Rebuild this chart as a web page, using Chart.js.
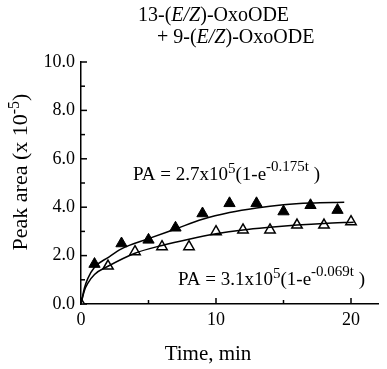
<!DOCTYPE html>
<html>
<head>
<meta charset="utf-8">
<script src="https://cdn.jsdelivr.net/npm/chart.js@4/dist/chart.umd.min.js"></script>
<style>
  html, body { margin: 0; padding: 0; background: #fff; }
  #wrap { width: 387px; height: 369px; position: relative; }
</style>
</head>
<body>
<div id="wrap"><canvas id="chart"></canvas></div>
<script>
// measured points (time in min, peak area x 1e-5)
const filledTimes = [1, 3, 5, 7, 9, 11, 13, 15, 17, 19];
const filledArea = [1.65, 2.5, 2.65, 3.15, 3.74, 4.16, 4.16, 3.82, 4.08, 3.88];
const openTimes = [0, 2, 4, 6, 8, 10, 12, 14, 16, 18, 20];
const openArea = [0, 1.57, 2.16, 2.37, 2.37, 2.99, 3.06, 3.06, 3.26, 3.26, 3.4];

// fitted curves
const upperFitTimes = [0, 0.25, 0.5, 1, 2, 3, 5, 7, 9, 11, 13, 15, 17, 19.5];
const upperFitArea = [0, 0.65, 1.05, 1.52, 1.92, 2.28, 2.7, 3.1, 3.5, 3.78, 3.97, 4.1, 4.17, 4.2];
const lowerFitTimes = [0, 0.25, 0.5, 1, 2, 4, 6, 8, 10, 12, 14, 16, 18, 20.2];
const lowerFitArea = [0, 0.55, 0.85, 1.22, 1.56, 2.1, 2.42, 2.68, 2.9, 3.06, 3.17, 3.26, 3.33, 3.38];

const xLabelValues = [0, 10, 20];
const xTickValues = [0, 5, 10, 15, 20];
const yTickValues = [0, 1, 2, 3, 4, 5, 6, 7, 8, 9, 10];

const serif = '"Liberation Serif", "Times New Roman", serif';

const toPoints = (xs, ys) => xs.map((x, i) => ({ x: x, y: ys[i] }));

// draws a list of text runs one after another on a baseline
function drawRuns(ctx, x, y, runs) {
    let cx = x;
    runs.forEach(r => {
        ctx.font = r.font;
        ctx.fillText(r.t, cx, y + (r.dy || 0));
        cx += ctx.measureText(r.t).width;
    });
    return cx - x;
}

function runsWidth(ctx, runs) {
    let w = 0;
    runs.forEach(r => { ctx.font = r.font; w += ctx.measureText(r.t).width; });
    return w;
}

const decorations = {
    id: 'decorations',
    afterDraw(chart) {
        const ctx = chart.ctx;
        const xs = chart.scales.x;
        const ys = chart.scales.y;
        const area = chart.chartArea;
        ctx.save();
        ctx.strokeStyle = '#000';
        ctx.fillStyle = '#000';
        ctx.lineWidth = 1.5;

        // inward tick marks
        xTickValues.forEach(v => {
            const px = xs.getPixelForValue(v);
            const len = v % 10 === 0 ? 6 : 4;
            ctx.beginPath();
            ctx.moveTo(px, area.bottom);
            ctx.lineTo(px, area.bottom - len);
            ctx.stroke();
        });
        yTickValues.forEach(v => {
            const py = ys.getPixelForValue(v);
            const len = v % 2 === 0 ? 6 : 4;
            ctx.beginPath();
            ctx.moveTo(area.left, py);
            ctx.lineTo(area.left + len, py);
            ctx.stroke();
        });

        ctx.textBaseline = 'alphabetic';
        ctx.textAlign = 'left';
        const f20 = '20px ' + serif;
        const i20 = 'italic 20px ' + serif;

        // title
        drawRuns(ctx, 138, 21, [
            { t: '13-(', font: f20 }, { t: 'E/Z', font: i20 }, { t: ')-OxoODE', font: f20 }
        ]);
        drawRuns(ctx, 157, 43, [
            { t: '+ 9-(', font: f20 }, { t: 'E/Z', font: i20 }, { t: ')-OxoODE', font: f20 }
        ]);

        // fit equations
        const f19 = '19px ' + serif;
        const f15 = '15px ' + serif;
        drawRuns(ctx, 133, 180, [
            { t: 'PA = 2.7x10', font: f19 }, { t: '5', font: f15, dy: -7 },
            { t: '(1-e', font: f19 }, { t: '-0.175t', font: f15, dy: -9 }, { t: ' )', font: f19 }
        ]);
        drawRuns(ctx, 178, 285, [
            { t: 'PA = 3.1x10', font: f19 }, { t: '5', font: f15, dy: -7 },
            { t: '(1-e', font: f19 }, { t: '-0.069t', font: f15, dy: -9 }, { t: ' )', font: f19 }
        ]);

        // x axis title
        ctx.font = '21px ' + serif;
        ctx.textAlign = 'center';
        ctx.fillText('Time, min', 208, 360);

        // y axis title, rotated
        const yRuns = [
            { t: 'Peak area (x 10', font: '22px ' + serif },
            { t: '-5', font: '16px ' + serif, dy: -8 },
            { t: ')', font: '22px ' + serif }
        ];
        ctx.textAlign = 'left';
        ctx.translate(27, 172);
        ctx.rotate(-Math.PI / 2);
        const w = runsWidth(ctx, yRuns);
        drawRuns(ctx, -w / 2, 0, yRuns);

        ctx.restore();
    }
};

const ctx = document.getElementById('chart').getContext('2d');
new Chart(ctx, {
    type: 'scatter',
    data: {
        datasets: [
            {
                label: 'fit upper',
                type: 'line',
                data: toPoints(upperFitTimes, upperFitArea),
                borderColor: '#000',
                borderWidth: 1.5,
                pointRadius: 0,
                fill: false,
                cubicInterpolationMode: 'monotone'
            },
            {
                label: 'fit lower',
                type: 'line',
                data: toPoints(lowerFitTimes, lowerFitArea),
                borderColor: '#000',
                borderWidth: 1.5,
                pointRadius: 0,
                fill: false,
                cubicInterpolationMode: 'monotone'
            },
            {
                label: 'filled',
                data: toPoints(filledTimes, filledArea),
                pointStyle: 'triangle',
                pointRadius: 6.5,
                backgroundColor: '#000',
                borderColor: '#000',
                borderWidth: 1
            },
            {
                label: 'open',
                data: toPoints(openTimes, openArea),
                pointStyle: 'triangle',
                pointRadius: 6,
                backgroundColor: '#fff',
                borderColor: '#000',
                borderWidth: 1.5
            }
        ]
    },
    options: {
        responsive: true,
        maintainAspectRatio: false,
        animation: false,
        layout: { padding: { left: 0, right: 9, top: 62, bottom: 0 } },
        plugins: {
            legend: { display: false },
            tooltip: { enabled: false }
        },
        scales: {
            x: {
                type: 'linear',
                min: 0,
                max: 22,
                grid: { display: false, drawTicks: false },
                border: { display: true, color: '#000', width: 1.5 },
                ticks: {
                    padding: 5,
                    color: '#000',
                    font: { family: serif, size: 18 },
                    maxRotation: 0,
                    autoSkip: false,
                    callback: v => xLabelValues.includes(v) ? String(v) : ''
                },
                afterBuildTicks: scale => {
                    scale.ticks = xTickValues.map(v => ({ value: v }));
                },
                afterFit: scale => { scale.height = 65; }
            },
            y: {
                type: 'linear',
                min: 0,
                max: 10,
                grid: { display: false, drawTicks: false },
                border: { display: true, color: '#000', width: 1.5 },
                ticks: {
                    stepSize: 2,
                    padding: 6,
                    color: '#000',
                    font: { family: serif, size: 18 },
                    callback: v => v.toFixed(1)
                },
                afterFit: scale => { scale.width = 81; }
            }
        }
    },
    plugins: [decorations]
});
</script>
</body>
</html>
